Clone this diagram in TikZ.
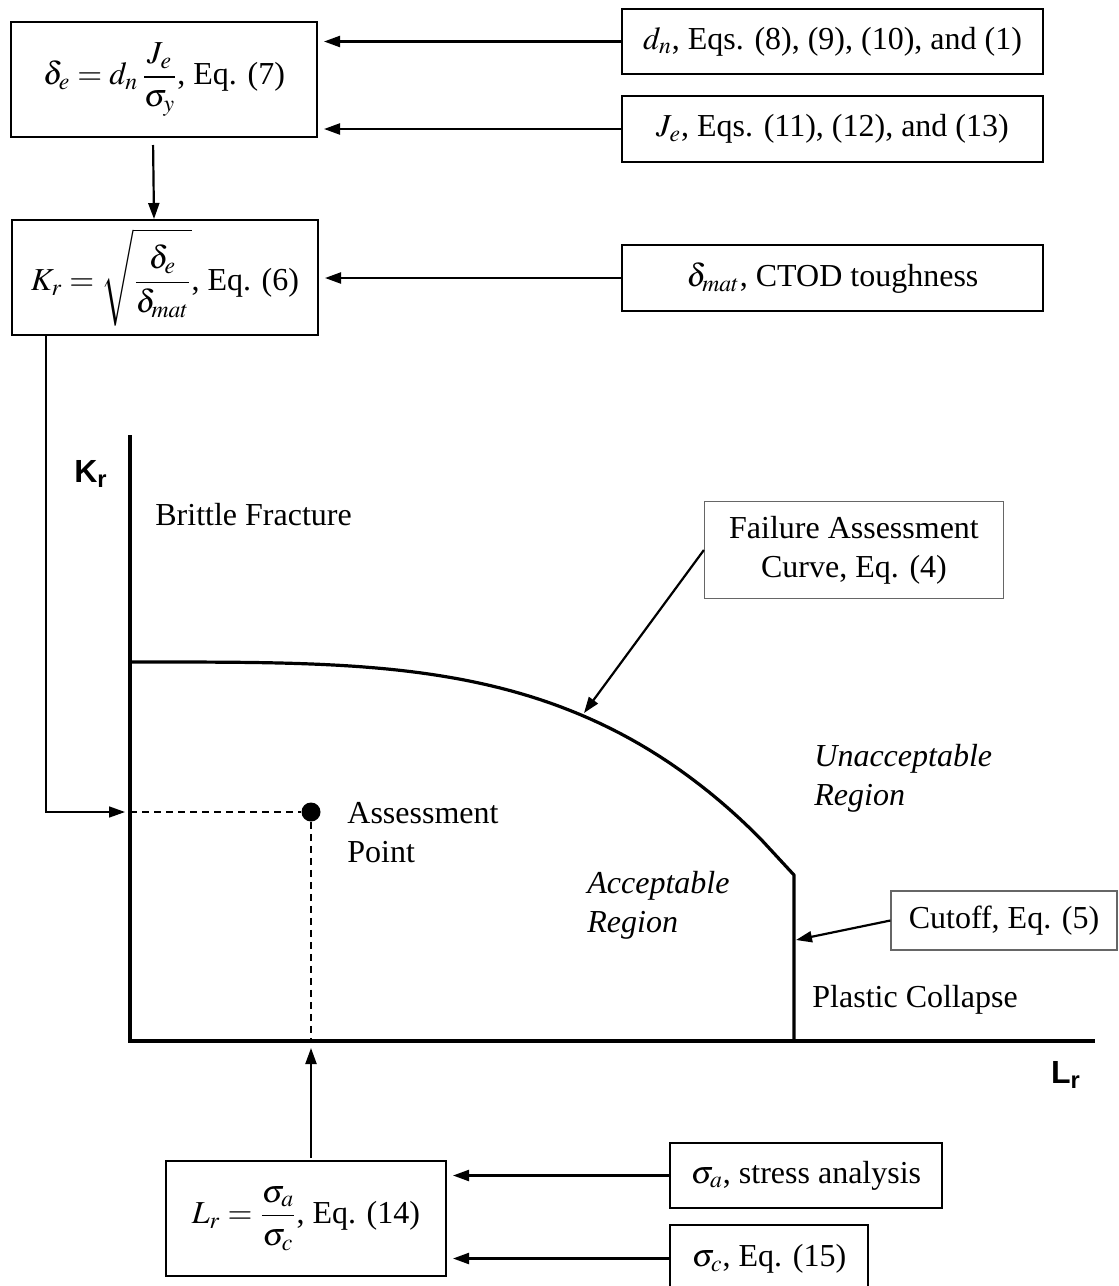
\documentclass[tikz,border=0pt]{standalone}
\usepackage{mathptmx}
\usepackage[no-math]{fontspec}
\setmainfont{Liberation Serif}
\newfontfamily\axisfont{Liberation Sans}
\usetikzlibrary{arrows.meta}
\tikzset{eqbox/.style={draw,line width=1pt,inner sep=0pt,align=center},
         srcbox/.style={draw,line width=1pt,inner sep=0pt},
         notebox/.style={draw=black!60,line width=0.6pt,inner sep=0pt,align=center},
         feed/.style={-{Triangle[length=8pt,width=5.5pt]},line width=1.1pt,shorten >=3pt},
         guide/.style={dash pattern=on 3.5pt off 2.5pt,line width=0.8pt},
         axis/.style={line width=2pt,line join=miter},
         fac/.style={line width=1.6pt,line join=round},
         axlabel/.style={font=\axisfont\bfseries,inner sep=0pt},
        }

\begin{document}
\fontsize{16}{19.5}\selectfont
\begin{tikzpicture}[x=0.5pt,y=-0.5pt]
        \clip(0,0)rectangle(1119,1286);
        % boxes
        \node[eqbox,minimum width=153pt,minimum height=57.5pt](de)at(164,79.5){$\displaystyle\delta_e=d_n\,\frac{J_e}{\sigma_y}$, Eq. (7)};
        \node[eqbox,minimum width=153pt,minimum height=57.5pt](kr)at(165,277.5){$\displaystyle K_r=\sqrt{\frac{\delta_e}{\delta_{mat}}}$, Eq. (6)};
        \node[eqbox,minimum width=140pt,minimum height=57.5pt](lr)at(306,1218.5){$\displaystyle L_r=\frac{\sigma_a}{\sigma_c}$, Eq. (14)};
        \node[srcbox,minimum width=210.5pt,minimum height=32.5pt](dn)at(832.5,41.5){$d_n$, Eqs. (8), (9), (10), and (1)};
        \node[srcbox,minimum width=210.5pt,minimum height=33pt](je)at(832.5,129){$J_e$, Eqs. (11), (12), and (13)};
        \node[srcbox,minimum width=210.5pt,minimum height=33pt](dm)at(832.5,278){$\delta_{mat}$, CTOD toughness};
        \node[srcbox,minimum width=136pt,minimum height=32.5pt](sa)at(806,1175.5){$\sigma_a$, stress analysis};
        \node[srcbox,minimum width=99pt,minimum height=33.5pt](sc)at(769,1258.5){$\sigma_c$, Eq. (15)};
        \node[notebox,minimum width=149.5pt,minimum height=48.5pt](fac)at(854,550){Failure Assessment\\Curve, Eq. (4)};
        \node[notebox,minimum width=113pt,minimum height=29.5pt](cut)at(1004,920.5){Cutoff, Eq. (5)};

        % axes and curve
        \coordinate(o)at(130,1041);
        \coordinate(ytop)at(130,435);
        \coordinate(xend)at(1095,1041);
        \coordinate(kin)at(130,812);
        \coordinate(kbend)at(46,812);
        \coordinate(facpt)at(584,713);
        \coordinate(cutpt)at(796,940);
        \draw[axis](ytop)--(o)--(xend);
        \draw[fac](130,662)--plot[domain=140:760,samples=63](\x,{662+213*((\x-130)/664)^3.6})--(794,875)--(794,1041);
        \node[circle,fill,inner sep=0pt,minimum size=9.5pt](ap)at(311,812){};

        \node[axlabel](kl)at(91,474){K\textsubscript{r}};
        \node[axlabel](ll)at(1066,1075){L\textsubscript{r}};
        \node[anchor=base west,inner sep=0pt](bf)at(155,525){Brittle Fracture};
        \node[anchor=west,align=left,inner sep=0pt,font=\itshape](ur)at(814,778){Unacceptable\\Region};
        \node[anchor=west,align=left,inner sep=0pt,font=\itshape](ar)at(587,905){Acceptable\\Region};
        \node[anchor=west,align=left,inner sep=0pt](apl)at(347,833){Assessment\\Point};
        \node[anchor=base west,inner sep=0pt](pc)at(812,1007){Plastic Collapse};

        % connectors
        \draw[feed](dn.west)--(dn.west -| de.east);
        \draw[feed](je.west)--(je.west -| de.east);
        \draw[feed,shorten <=3.5pt,shorten >=0pt]([xshift=-5.5pt]de.south)--([xshift=-5.5pt]kr.north);
        \draw[feed](dm.west)--(dm.west -| kr.east);
        \draw[feed,line width=0.8pt,shorten >=2.5pt](kr.south -| kbend)|-(kin);
        \draw[guide](kin)--(ap)--(ap |- o);
        \draw[feed,shorten <=1pt,shorten >=3.5pt](lr.north -| ap)--(ap |- o);
        \draw[feed](sa.west)--(sa.west -| lr.east);
        \draw[feed](sc.west)--(sc.west -| lr.east);
        \draw[feed,shorten >=0pt](fac.west)--(facpt);
        \draw[feed,shorten >=0pt](cut.west)--(cutpt);
    \end{tikzpicture}
\end{document}
